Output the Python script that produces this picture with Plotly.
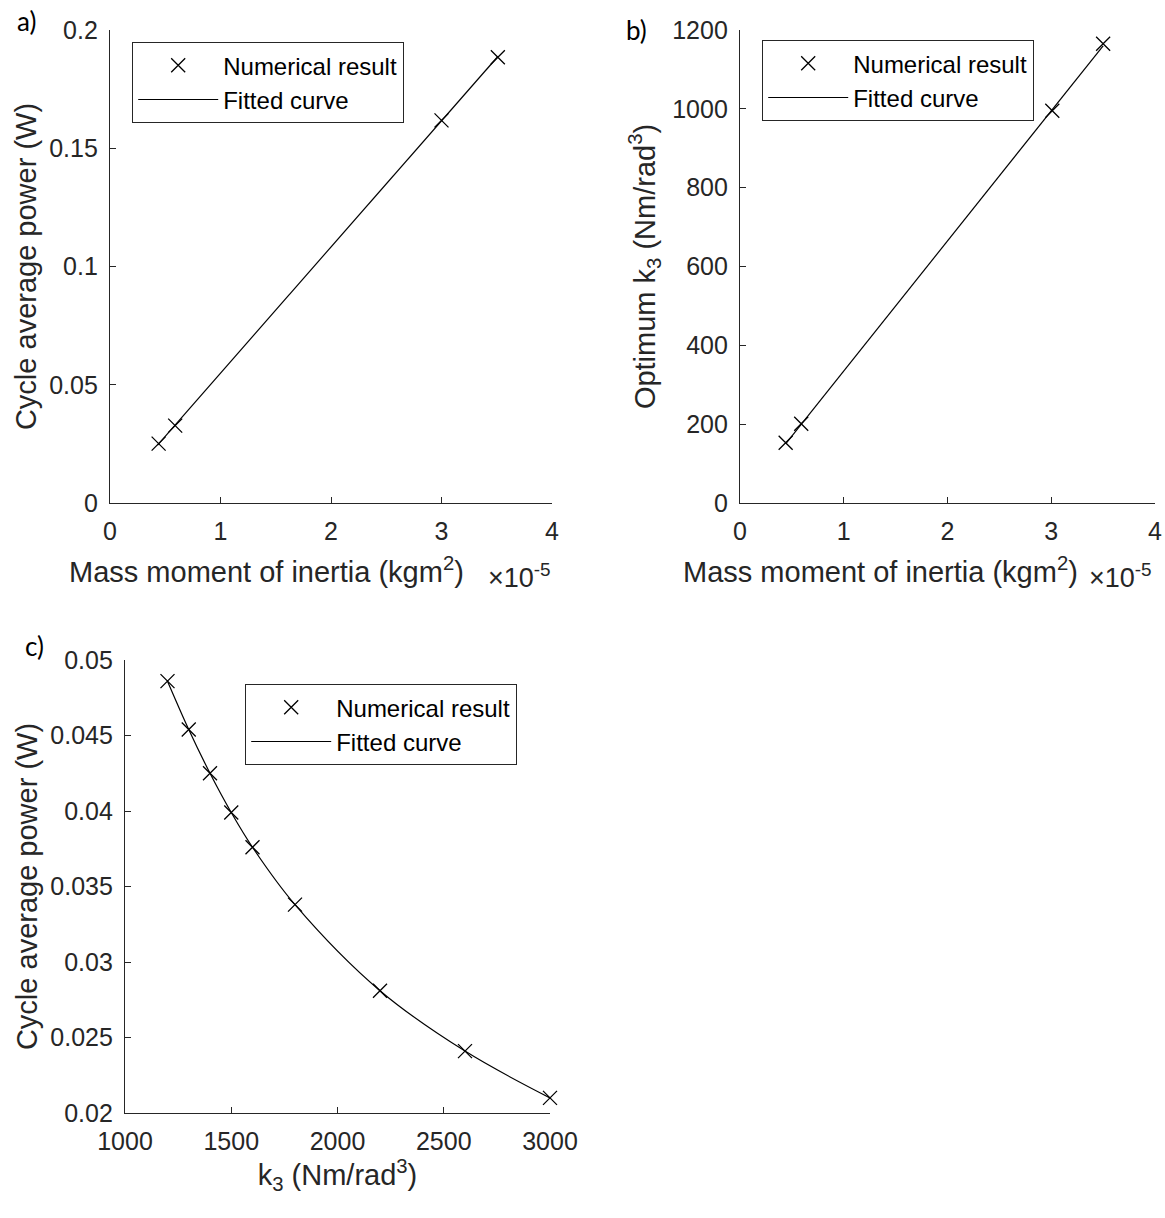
import plotly.graph_objects as go

# ---------------- data ----------------
# Panel a: mass moment of inertia (x 1e-5 kgm^2) vs cycle average power (W)
a_inertia = [0.44, 0.59, 3.00, 3.51]
a_power = [0.0251, 0.0327, 0.1618, 0.1885]
a_fit_inertia = [0.43, 3.51]
a_fit_power = [0.0245, 0.1888]

# Panel b: mass moment of inertia (x 1e-5 kgm^2) vs optimum k3 (Nm/rad^3)
b_inertia = [0.44, 0.59, 3.01, 3.50]
b_k3 = [153, 201, 995, 1165]
b_fit_inertia = [0.44, 3.50]
b_fit_k3 = [150, 1160]

# Panel c: k3 (Nm/rad^3) vs cycle average power (W)
c_k3 = [1200, 1300, 1400, 1500, 1600, 1800, 2200, 2600, 3000]
c_power = [0.0486, 0.0454, 0.0425, 0.0399, 0.0376, 0.0338, 0.0281, 0.0241, 0.0210]

# ---------------- layout helpers ----------------
W, H = 1165, 1218


def fx(px):
    return px / W


def fy(py):
    return 1 - py / H


AX = "#262626"
FONT = "Liberation Sans, Arial, sans-serif"
TICKF = dict(family=FONT, size=25, color=AX)
TITLEF = dict(family=FONT, size=29, color=AX)

fig = go.Figure()


def add_panel(xs, ys, fxs, fys, xa, ya, legend, spline=False):
    fig.add_trace(go.Scatter(
        x=xs, y=ys, mode="markers", name="Numerical result",
        marker=dict(symbol="x-thin-open", size=14, color="black",
                    line=dict(width=1.3, color="black")),
        cliponaxis=False,
        xaxis=xa, yaxis=ya, legend=legend))
    fig.add_trace(go.Scatter(
        x=fxs, y=fys, mode="lines", name="Fitted curve",
        line=dict(color="black", width=1.2, shape="spline" if spline else "linear"),
        cliponaxis=False,
        xaxis=xa, yaxis=ya, legend=legend))


add_panel(a_inertia, a_power, a_fit_inertia, a_fit_power, "x", "y", "legend")
add_panel(b_inertia, b_k3, b_fit_inertia, b_fit_k3, "x2", "y2", "legend2")
add_panel(c_k3, c_power, c_k3, c_power, "x3", "y3", "legend3", spline=True)


def axis_common():
    return dict(showline=True, linecolor=AX, linewidth=1.3, ticks="inside",
                ticklen=6, tickwidth=1.3, tickcolor=AX, showgrid=False,
                zeroline=False, tickfont=TICKF, mirror=False,
                ticklabelstandoff=6, automargin=False, layer="below traces")


xa = axis_common()
xa.update(domain=[fx(110), fx(552)], range=[0, 4], dtick=1, tick0=0, anchor="y")
ya = axis_common()
ya.update(domain=[fy(503), fy(30)], range=[0, 0.2], dtick=0.05, tick0=0,
          anchor="x",
          title=dict(text="Cycle average power (W)", font=TITLEF, standoff=4))

xb = axis_common()
xb.update(domain=[fx(740), fx(1155)], range=[0, 4], dtick=1, tick0=0, anchor="y2")
yb = axis_common()
yb.update(domain=[fy(503), fy(30)], range=[0, 1200], dtick=200, tick0=0,
          anchor="x2",
          title=dict(text="Optimum k<sub>3</sub> (Nm/rad<sup>3</sup>)", font=TITLEF, standoff=8))

xc = axis_common()
xc.update(domain=[fx(125), fx(550)], range=[1000, 3000], dtick=500, tick0=1000,
          anchor="y3",
          title=dict(text="k<sub>3</sub> (Nm/rad<sup>3</sup>)", font=TITLEF, standoff=8))
yc = axis_common()
yc.update(domain=[fy(1113), fy(660)], range=[0.02, 0.05], dtick=0.005, tick0=0.02,
          anchor="x3",
          title=dict(text="Cycle average power (W)", font=TITLEF, standoff=4))


def legend_box(left, top):
    return dict(x=fx(left), y=fy(top), xanchor="left", yanchor="top",
                bgcolor="white", bordercolor=AX, borderwidth=1.2,
                font=dict(family=FONT, size=24, color="black"),
                itemwidth=80, tracegroupgap=0)


fig.update_layout(
    template="none",
    width=W, height=H,
    margin=dict(l=0, r=0, t=0, b=0, autoexpand=False),
    paper_bgcolor="white", plot_bgcolor="white",
    showlegend=True,
    xaxis=xa, yaxis=ya, xaxis2=xb, yaxis2=yb, xaxis3=xc, yaxis3=yc,
    legend=legend_box(132, 42),
    legend2=legend_box(762, 40),
    legend3=legend_box(245, 684),
)

# x-axis titles of panels a and b (placed left of centre, next to the exponent)
for px in [266, 880]:
    fig.add_annotation(text="Mass moment of inertia (kgm<sup>2</sup>)", x=fx(px), y=fy(570),
                       xref="paper", yref="paper", showarrow=False, font=TITLEF,
                       xanchor="center", yanchor="middle")

# exponent labels
exp_font = dict(family=FONT, size=27, color=AX)
for px, py in [(519, 576), (1120, 576)]:
    fig.add_annotation(text="\u00d710<sup>-5</sup>", x=fx(px), y=fy(py),
                       xref="paper", yref="paper", showarrow=False,
                       font=exp_font, xanchor="center", yanchor="middle")

# panel letters
lab_font = dict(family="Lato, Carlito, sans-serif", size=26, color="black")
for txt, px, py in [("a)", 26, 21), ("b)", 636, 30), ("c)", 34, 646)]:
    fig.add_annotation(text=txt, x=fx(px), y=fy(py), xref="paper", yref="paper",
                       showarrow=False, font=lab_font, xanchor="center", yanchor="middle")

fig.write_html(
    "out.html",
    config={"displayModeBar": False},
    post_script="document.body.style.margin='0';document.body.style.overflow='hidden';",
)
